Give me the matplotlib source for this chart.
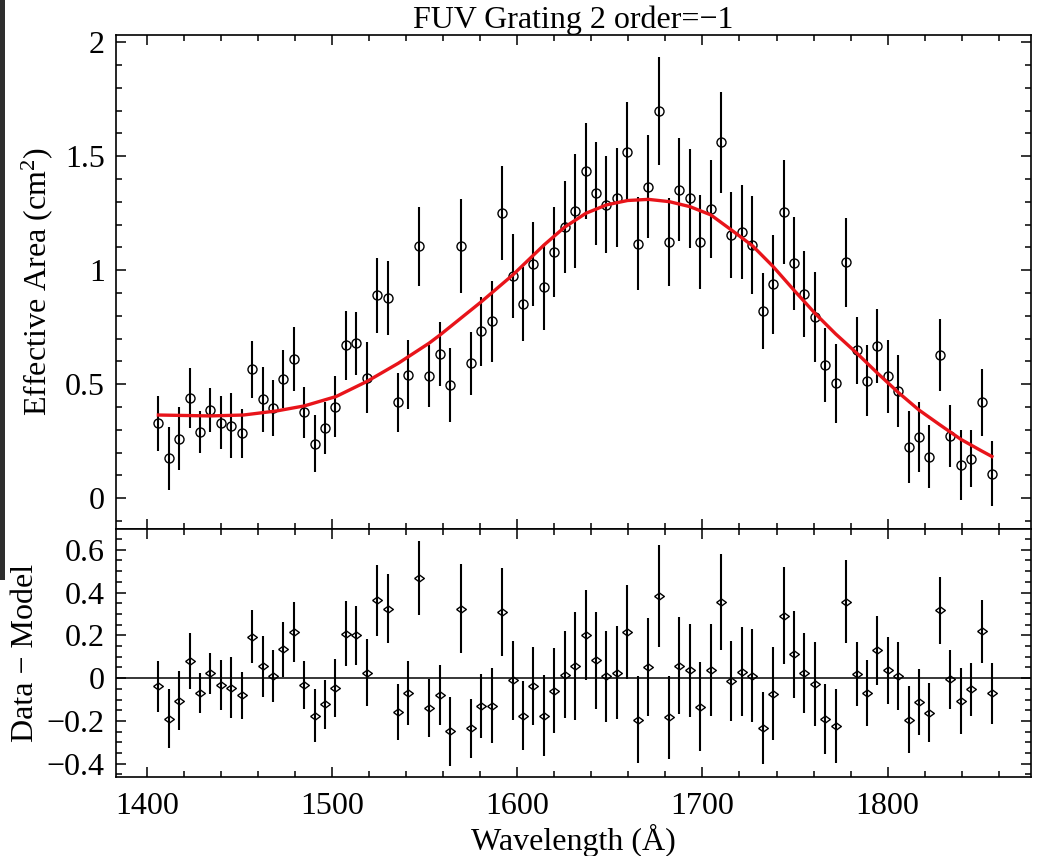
import numpy as np
import matplotlib
matplotlib.use("Agg")
import matplotlib.pyplot as plt
from matplotlib.ticker import MultipleLocator, FuncFormatter
from matplotlib.patches import Rectangle

plt.rcParams['font.family'] = ['Liberation Serif', 'DejaVu Serif']
plt.rcParams['mathtext.fontset'] = 'custom'
plt.rcParams['mathtext.rm'] = 'Liberation Serif'
plt.rcParams['mathtext.it'] = 'Liberation Serif:italic'

# wavelength of each bin (Angstrom)
wave = [1406.3, 1411.9, 1417.5, 1423.2, 1428.8, 1434.4, 1440.1, 1445.7, 1451.3, 1456.9,
        1462.5, 1468.2, 1473.8, 1479.4, 1485.1, 1490.7, 1496.3, 1501.9, 1507.5, 1513.2,
        1518.8, 1524.4, 1530.1, 1535.7, 1541.3, 1546.9, 1552.5, 1558.2, 1563.8, 1569.4,
        1575.1, 1580.7, 1586.3, 1591.9, 1597.5, 1603.2, 1608.8, 1614.4, 1620.1, 1625.7,
        1631.3, 1636.9, 1642.5, 1648.2, 1653.8, 1659.4, 1665.1, 1670.7, 1676.3, 1681.9,
        1687.5, 1693.2, 1698.8, 1704.4, 1710.1, 1715.7, 1721.3, 1726.9, 1732.5, 1738.2,
        1743.8, 1749.4, 1755.1, 1760.7, 1766.3, 1771.9, 1777.5, 1783.2, 1788.8, 1794.4,
        1800.1, 1805.7, 1811.3, 1816.9, 1822.5, 1828.2, 1833.8, 1839.4, 1845.1, 1850.7,
        1856.3]

# measured effective area (cm^2)
area = [0.329, 0.175, 0.26, 0.44, 0.29, 0.387, 0.332, 0.319, 0.285, 0.566,
        0.434, 0.395, 0.522, 0.611, 0.377, 0.24, 0.308, 0.402, 0.671, 0.68,
        0.529, 0.89, 0.879, 0.421, 0.541, 1.105, 0.534, 0.633, 0.497, 1.107,
        0.592, 0.732, 0.776, 1.251, 0.975, 0.852, 1.028, 0.928, 1.08, 1.189,
        1.26, 1.434, 1.338, 1.287, 1.319, 1.519, 1.117, 1.367, 1.699, 1.123,
        1.354, 1.316, 1.124, 1.268, 1.561, 1.156, 1.167, 1.11, 0.822, 0.939,
        1.257, 1.031, 0.896, 0.794, 0.585, 0.504, 1.035, 0.649, 0.515, 0.669,
        0.534, 0.471, 0.224, 0.268, 0.183, 0.629, 0.273, 0.146, 0.173, 0.421,
        0.108]

# 1-sigma errors
err = [0.12, 0.138, 0.138, 0.132, 0.092, 0.096, 0.117, 0.142, 0.108, 0.125,
       0.142, 0.122, 0.127, 0.14, 0.112, 0.124, 0.114, 0.135, 0.151, 0.138,
       0.157, 0.165, 0.162, 0.13, 0.151, 0.173, 0.136, 0.14, 0.161, 0.207,
       0.138, 0.15, 0.177, 0.205, 0.186, 0.163, 0.184, 0.188, 0.198, 0.202,
       0.251, 0.21, 0.226, 0.213, 0.217, 0.218, 0.203, 0.227, 0.237, 0.194,
       0.226, 0.218, 0.208, 0.215, 0.223, 0.188, 0.207, 0.216, 0.166, 0.217,
       0.228, 0.204, 0.188, 0.197, 0.163, 0.173, 0.195, 0.148, 0.155, 0.162,
       0.158, 0.158, 0.157, 0.155, 0.137, 0.158, 0.136, 0.155, 0.125, 0.146,
       0.142]

# data - model
resid = [-0.039, -0.19, -0.105, 0.08, -0.07, 0.023, -0.031, -0.045, -0.081, 0.194,
         0.056, 0.009, 0.134, 0.215, -0.031, -0.175, -0.122, -0.045, 0.208, 0.2,
         0.025, 0.364, 0.325, -0.159, -0.069, 0.468, -0.139, -0.08, -0.248, 0.325,
         -0.234, -0.131, -0.128, 0.308, -0.011, -0.175, -0.037, -0.175, -0.059, 0.017,
         0.056, 0.201, 0.083, 0.009, 0.025, 0.215, -0.195, 0.052, 0.384, -0.183,
         0.059, 0.036, -0.133, 0.036, 0.356, -0.014, 0.031, 0.012, -0.233, -0.073,
         0.292, 0.111, 0.025, -0.027, -0.19, -0.222, 0.358, 0.02, -0.07, 0.13,
         0.036, 0.009, -0.194, -0.112, -0.162, 0.317, -0.006, -0.108, -0.053, 0.219,
         -0.07]

# fitted model curve
model_wave = [1406.3, 1434.2, 1452.2, 1470.2, 1485.1, 1502.2, 1518.8, 1535.8, 1552.4,
              1558.3, 1580.8, 1597.7, 1614.5, 1625.6, 1637.1, 1648.3, 1659.6, 1670.8,
              1682.1, 1693.3, 1704.5, 1715.6, 1727.1, 1738.2, 1749.6, 1760.8, 1771.9,
              1783.4, 1794.6, 1805.9, 1816.9, 1828.2, 1839.6, 1850.6, 1856.3]
model_area = [0.365, 0.361, 0.365, 0.383, 0.405, 0.446, 0.512, 0.592, 0.68,
              0.716, 0.863, 0.98, 1.111, 1.189, 1.25, 1.287, 1.306, 1.311,
              1.301, 1.279, 1.243, 1.177, 1.107, 1.016, 0.911, 0.811, 0.721,
              0.636, 0.548, 0.463, 0.387, 0.322, 0.258, 0.208, 0.183]

W, H = 1037, 856
fig = plt.figure(figsize=(W / 100, H / 100), dpi=100)

L, R = 116, 1031
ax1 = fig.add_axes([L / W, 1 - 529 / H, (R - L) / W, (529 - 35) / H])
ax2 = fig.add_axes([L / W, 1 - 777 / H, (R - L) / W, (777 - 529) / H], sharex=ax1)

# screenshot edge strip
fig.patches.append(Rectangle((0, 1 - 580 / H), 5 / W, 580 / H, transform=fig.transFigure,
                             facecolor='#2e2e2e', edgecolor='none'))

diamond = [(-1, 0), (0, 0.72), (1, 0), (0, -0.72), (-1, 0)]

ax1.errorbar(wave, area, yerr=err, fmt='none', ecolor='black', elinewidth=1.5)
ax1.plot(wave, area, 'o', ms=6.5, mfc='none', mec='black', mew=1.0)
ax1.plot(model_wave, model_area, color='#e8141a', lw=2.4)

ax2.errorbar(wave, resid, yerr=err, fmt='none', ecolor='black', elinewidth=1.5)
ax2.plot(wave, resid, linestyle='none', marker=diamond, ms=7, mfc='none', mec='black', mew=1.0)
ax2.axhline(0, color='black', lw=1.1)

ax1.set_xlim(1383.4, 1877.4)
ax1.set_ylim(-0.135, 2.032)
ax2.set_ylim(-0.462, 0.697)

fmt = FuncFormatter(lambda v, p: ('%g' % round(v, 3)).replace('-', '\u2212'))

for ax in (ax1, ax2):
    ax.xaxis.set_major_locator(MultipleLocator(100))
    ax.xaxis.set_minor_locator(MultipleLocator(20))
    ax.tick_params(which='both', direction='in', top=True, right=True, width=1.1,
                   labelsize=23)
    ax.tick_params(which='major', length=7)
    ax.tick_params(which='minor', length=4)
    ax.tick_params(axis='x', pad=11)
    ax.tick_params(axis='y', pad=8)
    ax.yaxis.set_major_formatter(fmt)
    for s in ax.spines.values():
        s.set_linewidth(1.2)

ax1.yaxis.set_major_locator(MultipleLocator(0.5))
ax1.yaxis.set_minor_locator(MultipleLocator(0.1))
ax2.yaxis.set_major_locator(MultipleLocator(0.2))
ax2.yaxis.set_minor_locator(MultipleLocator(0.05))
ax1.tick_params(axis='x', labelbottom=False)

ax1.set_title('FUV Grating 2 order=\u22121', fontsize=23, pad=5)
ax1.set_ylabel(r'Effective Area (cm$^{2}$)', fontsize=23, labelpad=7)
ax2.set_ylabel('Data \u2212 Model', fontsize=23, labelpad=5)
ax2.set_xlabel('Wavelength (\u00c5)', fontsize=23, labelpad=2)
fig.align_ylabels([ax1, ax2])

fig.savefig('out.png', dpi=100)
